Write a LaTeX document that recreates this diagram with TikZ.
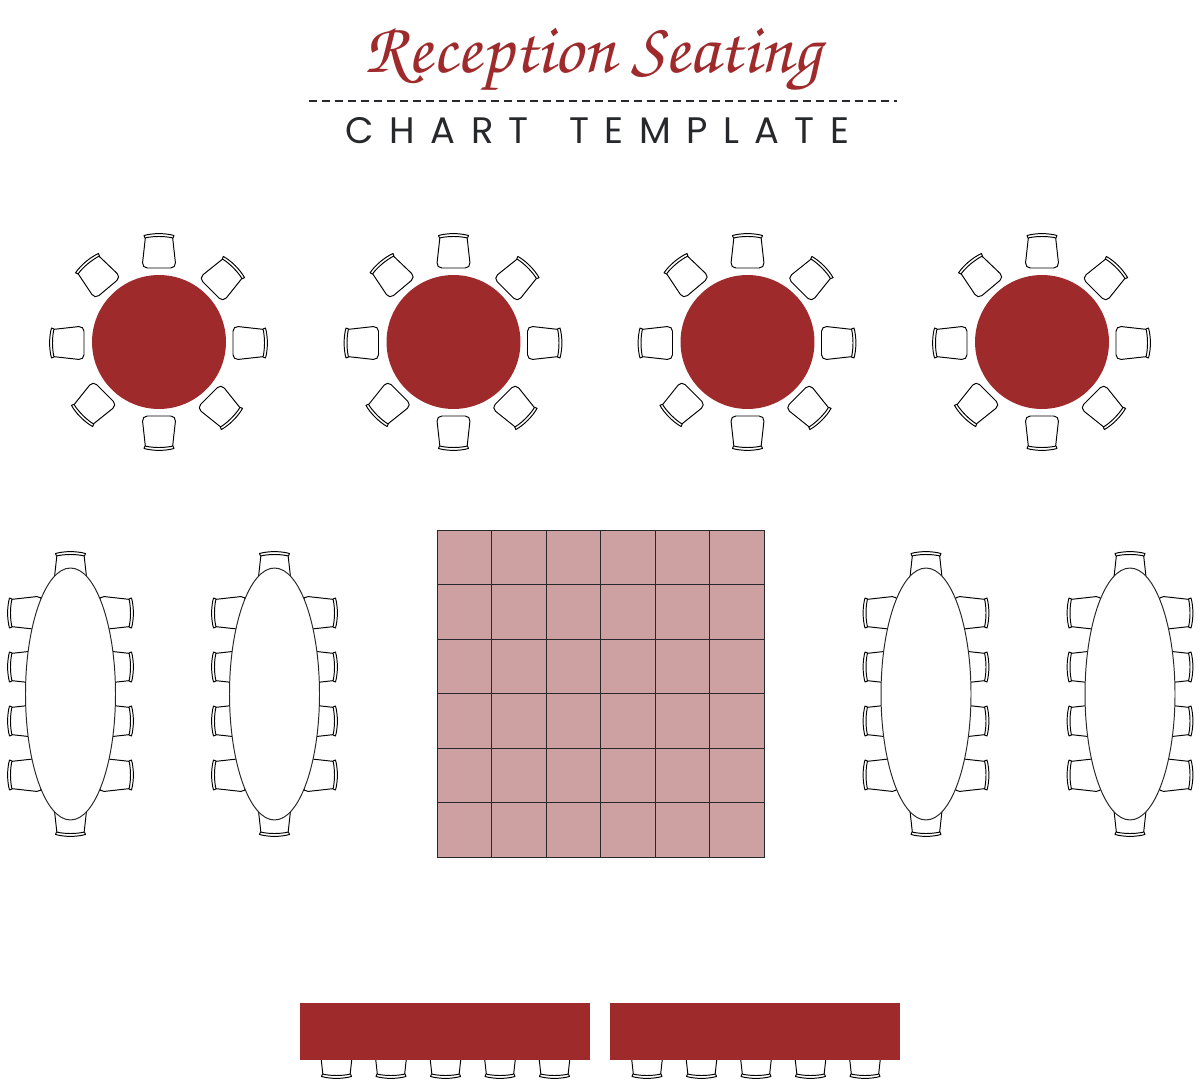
\documentclass[tikz,border=0pt]{standalone}
\usepackage{fontspec}
\usetikzlibrary{shapes.geometric}
\newfontfamily\subtitlefont[LetterSpace=42]{Poppins}
\definecolor{wine}{HTML}{9F2A2C}
\definecolor{floorpink}{HTML}{CDA0A2}
\definecolor{inkdark}{HTML}{26282B}

\tikzset{
  chair/.pic={
    \draw[fill=white,line width=0.55pt,rounded corners=3pt,line join=round]
      (-13.5,-14.5) -- (-17,17) -- (17,17) -- (13.5,-14.5);
    \draw[fill=white,line width=0.55pt,line join=round]
      (-15,-15.5) .. controls (-6,-18) and (6,-18) .. (15,-15.5)
      -- (14,-13) .. controls (6,-15) and (-6,-15) .. (-14,-13) -- cycle;
  },
  roundtable/.style={draw=none,fill=wine,circle,inner sep=0pt,minimum size=2.68cm},
  ovaltable/.style={draw=black!85,fill=white,ellipse,line width=0.55pt,inner sep=0pt,
    minimum width=1.8cm,minimum height=5.04cm},
  floorcell/.style={draw=inkdark,fill=floorpink,line width=0.55pt,inner sep=0pt,minimum size=1.09cm},
  headtable/.style={draw=none,fill=wine,inner sep=0pt,minimum width=5.8cm,minimum height=1.14cm}
}

\begin{document}
\begin{tikzpicture}
  [x=0.02cm,y=-0.02cm]

  \useasboundingbox (0,0) rectangle (1200,1087);

  \node[text=wine,inner sep=0pt] (title) at (593,60)
    {\fontsize{41}{44}\usefont{T1}{pzc}{mb}{it}Reception Seating};
  \coordinate (ruleleft) at (309,101);
  \coordinate (ruleright) at (897,101);
  \draw[inkdark,line width=0.85pt,dash pattern=on 4.5pt off 2.9pt] (ruleleft) -- (ruleright);
  \node[text=inkdark,inner sep=0pt] (subtitle) at (597.5,131)
    {\fontsize{21}{24}\subtitlefont CHART\hspace{8.5pt} TEMPLATE};

  \foreach \cx [count=\n] in {159,453.5,747.5,1042} {
    \node[roundtable] (round\n) at (\cx,342) {};
    \foreach \dx/\dy/\ang in {0/-91/0,64/-64/-45,91/1/-90,62/66/-135,0/91/180,-66/63/135,-62/-67/40,-92/1/90}
      \pic[rotate=\ang] at (\cx+\dx,342+\dy) {chair};
  }

  \foreach \cx [count=\n] in {70.5,274.5,926,1130} {
    \pic at (\cx,569) {chair};
    \pic[rotate=180] at (\cx,819) {chair};
    \foreach \cy in {613,667,721,775} {
      \pic[rotate=90] at (\cx-45.5,\cy) {chair};
      \pic[rotate=-90] at (\cx+45.5,\cy) {chair};
    }
    \node[ovaltable] (oval\n) at (\cx,694) {};
  }

  \foreach \i in {1,...,6}
    \foreach \j in {1,...,6}
      \node[floorcell] (cell\i\j) at (409.75+54.5*\i,502.75+54.5*\j) {};

  \foreach \cx in {336.5,391,445.5,500,554.5,647,701.5,756,810.5,865}
    \pic[rotate=180] at (\cx,1061) {chair};
  \node[headtable] (headleft) at (445,1031.5) {};
  \node[headtable] (headright) at (755,1031.5) {};
\end{tikzpicture}
\end{document}
